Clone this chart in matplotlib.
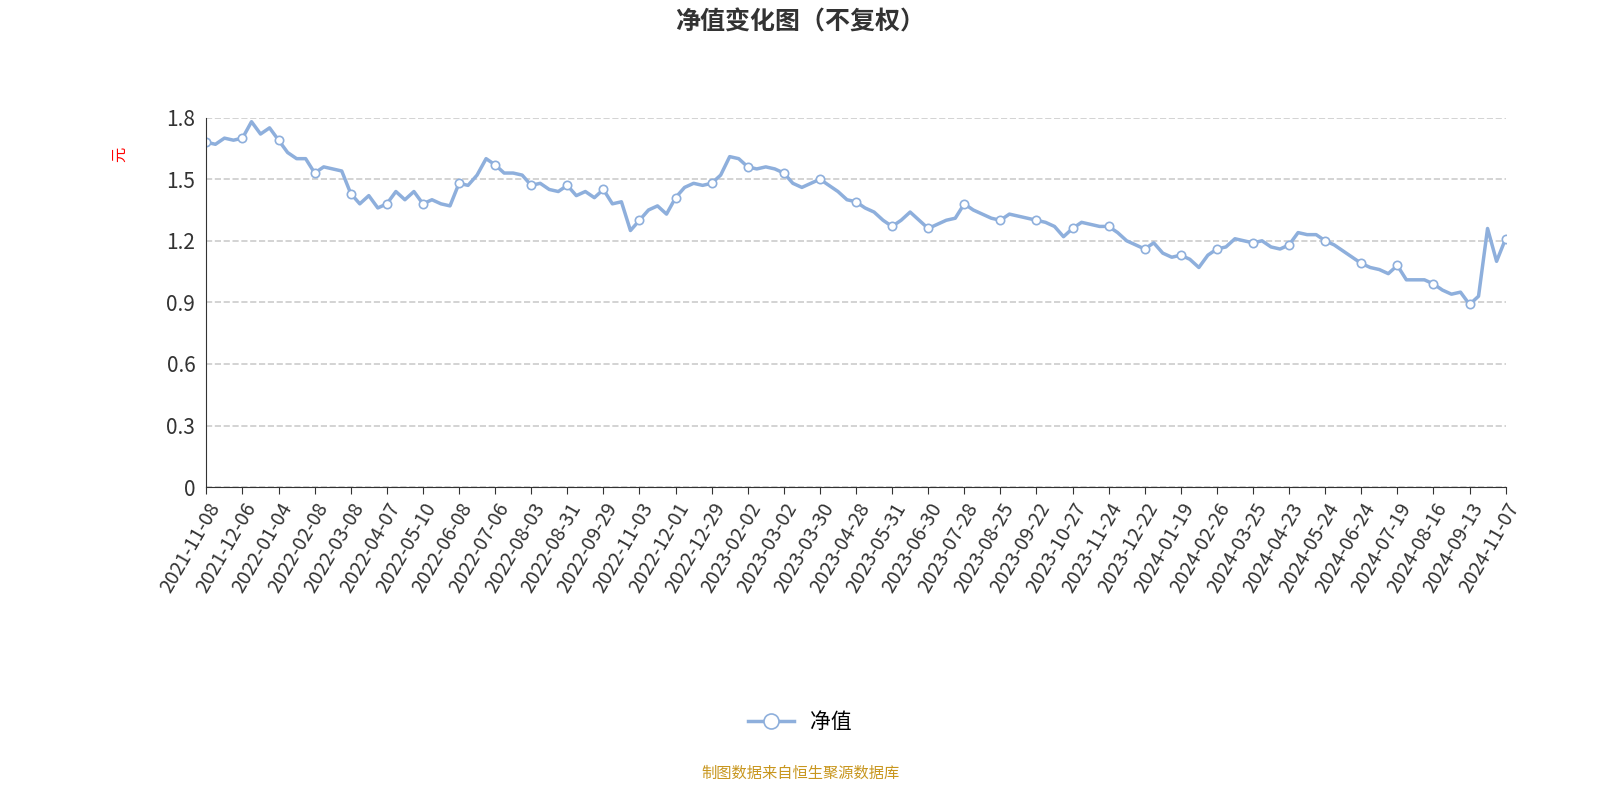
import matplotlib
matplotlib.use("Agg")
import matplotlib.pyplot as plt

plt.rcParams['font.family'] = ['Noto Sans CJK SC', 'DejaVu Sans']

tick_labels = ["2021-11-08", "2021-12-06", "2022-01-04", "2022-02-08", "2022-03-08", "2022-04-07",
               "2022-05-10", "2022-06-08", "2022-07-06", "2022-08-03", "2022-08-31", "2022-09-29",
               "2022-11-03", "2022-12-01", "2022-12-29", "2023-02-02", "2023-03-02", "2023-03-30",
               "2023-04-28", "2023-05-31", "2023-06-30", "2023-07-28", "2023-08-25", "2023-09-22",
               "2023-10-27", "2023-11-24", "2023-12-22", "2024-01-19", "2024-02-26", "2024-03-25",
               "2024-04-23", "2024-05-24", "2024-06-24", "2024-07-19", "2024-08-16", "2024-09-13",
               "2024-11-07"]

# net value, 4 samples per label interval
nav = [1.68, 1.67, 1.70, 1.69,  1.70, 1.78, 1.72, 1.75,  1.69, 1.63, 1.60, 1.60,
       1.53, 1.56, 1.55, 1.54,  1.43, 1.38, 1.42, 1.36,  1.38, 1.44, 1.40, 1.44,
       1.38, 1.40, 1.38, 1.37,  1.48, 1.47, 1.52, 1.60,  1.57, 1.53, 1.53, 1.52,
       1.47, 1.48, 1.45, 1.44,  1.47, 1.42, 1.44, 1.41,  1.45, 1.38, 1.39, 1.25,
       1.30, 1.35, 1.37, 1.33,  1.41, 1.46, 1.48, 1.47,  1.48, 1.52, 1.61, 1.60,
       1.56, 1.55, 1.56, 1.55,  1.53, 1.48, 1.46, 1.48,  1.50, 1.47, 1.44, 1.40,
       1.39, 1.36, 1.34, 1.30,  1.27, 1.30, 1.34, 1.30,  1.26, 1.28, 1.30, 1.31,
       1.38, 1.35, 1.33, 1.31,  1.30, 1.33, 1.32, 1.31,  1.30, 1.29, 1.27, 1.22,
       1.26, 1.29, 1.28, 1.27,  1.27, 1.24, 1.20, 1.18,  1.16, 1.19, 1.14, 1.12,
       1.13, 1.11, 1.07, 1.13,  1.16, 1.17, 1.21, 1.20,  1.19, 1.20, 1.17, 1.16,
       1.18, 1.24, 1.23, 1.23,  1.20, 1.18, 1.15, 1.12,  1.09, 1.07, 1.06, 1.04,
       1.08, 1.01, 1.01, 1.01,  0.99, 0.96, 0.94, 0.95,  0.89, 0.93, 1.26, 1.10,
       1.21]

color = '#8eafdc'
x = list(range(len(nav)))

fig = plt.figure(figsize=(16, 8), dpi=100)
ax = fig.add_axes([0.129, 0.391, 0.812, 0.462])
ax.plot(x, nav, color=color, lw=2.5, marker='o', markevery=4, ms=6,
        markerfacecolor='white', markeredgecolor=color, markeredgewidth=1.2, label='净值')
ax.set_xlim(0, len(nav) - 1)
ax.set_ylim(0, 1.8)
ax.set_yticks([0, 0.3, 0.6, 0.9, 1.2, 1.5, 1.8])
ax.set_yticklabels(['0', '0.3', '0.6', '0.9', '1.2', '1.5', '1.8'], fontsize=15, color='#333333')
ax.set_xticks(list(range(0, len(nav), 4)))
ax.set_xticklabels(tick_labels, rotation=60, ha='right', rotation_mode='anchor', fontsize=14, color='#333333')
ax.yaxis.grid(True, linestyle='--', color='#cccccc', lw=1.2)
ax.set_axisbelow(True)
for s in ['top', 'right']:
    ax.spines[s].set_visible(False)
ax.spines['left'].set_color('#333333')
ax.spines['bottom'].set_color('#333333')
ax.tick_params(axis='y', length=0, pad=8)
ax.tick_params(axis='x', length=5, color='#333333')
ax.set_ylabel('元', color='red', fontsize=11)
ax.yaxis.set_label_coords(-0.06, 0.9)

fig.text(0.5, 0.972, '净值变化图（不复权）', ha='center', va='center', fontsize=18, fontweight='bold', color='#333333')
fig.legend(loc='center', bbox_to_anchor=(0.5, 0.097), frameon=False, fontsize=15, markerscale=1.8, handlelength=2.2)
fig.text(0.5, 0.033, '制图数据来自恒生聚源数据库', ha='center', va='center', fontsize=11, color='#c8961e')

fig.savefig('out.png')
